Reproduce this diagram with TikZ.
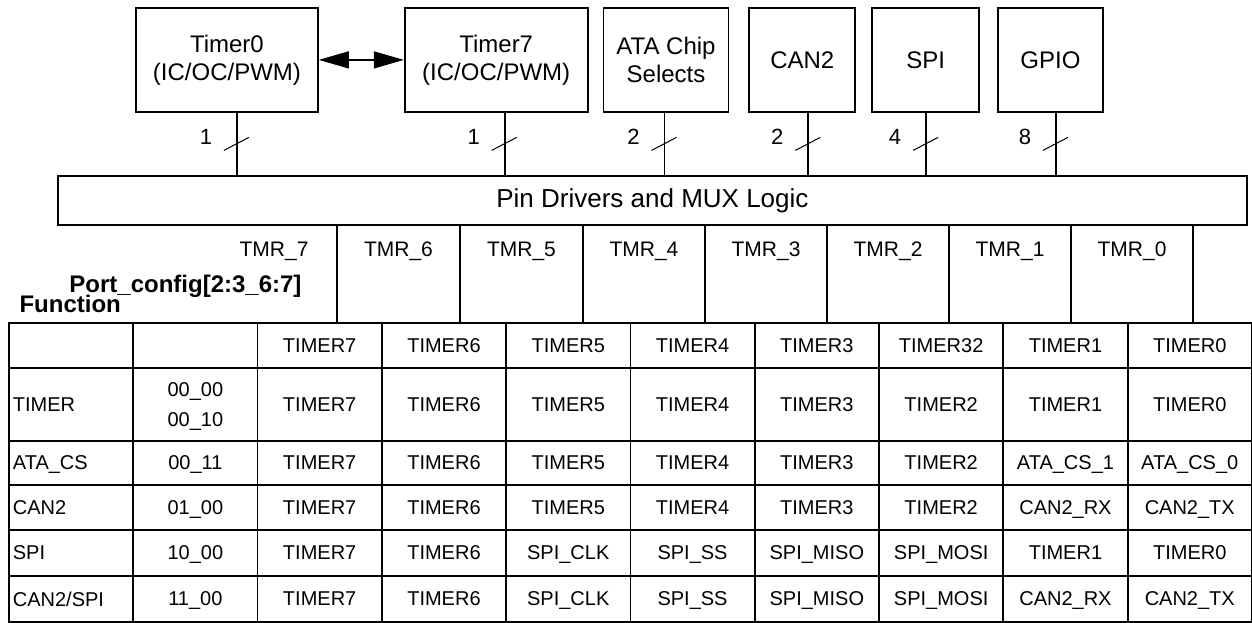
\documentclass[tikz,border=0pt]{standalone}
\usepackage{fontspec}
\setmainfont{Liberation Sans}
\usetikzlibrary{arrows.meta, positioning, calc}

\begin{document}
\begin{tikzpicture}[x=1pt, y=1pt,
    block/.style={draw, line width=1.8pt, minimum height=104pt, inner sep=2pt, align=center, font=\fontsize{24}{28}\selectfont},
    bus/.style={draw, line width=1.8pt, minimum width=1189pt, minimum height=49pt, font=\fontsize{26}{30}\selectfont},
    wire/.style={line width=1.8pt},
    slashmark/.style={line width=1pt},
    nbits/.style={font=\fontsize{22}{26}\selectfont},
    tmr/.style={anchor=base, font=\fontsize{21}{25}\selectfont},
    hdr/.style={font=\bfseries\fontsize{24}{28}\selectfont},
    cell/.style={draw, line width=1.8pt, anchor=north west, minimum width=124.3pt, inner sep=0pt, text depth=0pt, align=center, font=\fontsize{20}{30}\selectfont},
    cellL/.style={cell, text width=116.3pt, inner xsep=4pt, align=left}]
    \useasboundingbox (0,0) rectangle (1252,622);

    % Blocks
    \node [block, minimum width=182pt, anchor=north west] (tmr0) at (135,615) {Timer0\\(IC/OC/PWM)};
    \node [block, minimum width=183pt, right=85pt of tmr0] (tmr7) {Timer7\\(IC/OC/PWM)};
    \node [block, minimum width=125pt, right=14pt of tmr7] (ata) {ATA Chip\\Selects};
    \node [block, minimum width=106pt, right=19pt of ata] (can) {CAN2};
    \node [block, minimum width=107pt, right=15pt of can] (spi) {SPI};
    \node [block, minimum width=105pt, right=17pt of spi] (gpio) {GPIO};
    \node [bus, anchor=north west] (bus) at (57,447) {Pin Drivers and MUX Logic};

    % Connectors
    \draw [{Triangle[length=30pt,width=17pt]}-{Triangle[length=30pt,width=17pt]}, line width=1.3pt] (tmr0.east) -- (tmr7.west);
    \foreach \blk/\dx/\n in {tmr0/10/1, tmr7/8.5/1, ata/-1.5/2, can/6/2, spi/0.5/4, gpio/5.5/8} {
        \coordinate (\blk-w) at ([xshift=\dx pt]\blk.south);
        \draw [wire] (\blk-w) -- coordinate (\blk-m) (\blk-w |- bus.north);
        \draw [slashmark] ($(\blk-m)+(-13,-6.5)$) -- ($(\blk-m)+(12,6.5)$);
        \node [nbits] (\blk-n) at ($(\blk-m)+(-31,7)$) {\n};
    }

    % Port_config header
    \foreach \x in {337,460,583,705,827,949,1071,1193}
        \draw [wire] (\x,398) -- (\x,300);
    \node [tmr, anchor=base east] (lbl7) at (312,365) {TMR\_7};
    \foreach \k/\x in {6/398.5,5/521.5,4/644,3/766,2/888,1/1010,0/1132}
        \node [tmr] (lbl\k) at (\x,365) {TMR\_\k};
    \node [hdr, anchor=base east] (cfg) at (305,330) {Port\_config[2:3\_6:7]};
    \node [hdr, anchor=base west] (func) at (16,310) {Function};

    % Table
    \foreach \ytop/\rowh/\fn/\cf/\vals [count=\row] in {
        300/45/{}/{}/{TIMER7,TIMER6,TIMER5,TIMER4,TIMER3,TIMER32,TIMER1,TIMER0},
        255/73/TIMER/{00\_00\\00\_10}/{TIMER7,TIMER6,TIMER5,TIMER4,TIMER3,TIMER2,TIMER1,TIMER0},
        182/44/ATA\_CS/00\_11/{TIMER7,TIMER6,TIMER5,TIMER4,TIMER3,TIMER2,ATA\_CS\_1,ATA\_CS\_0},
        138/45/CAN2/01\_00/{TIMER7,TIMER6,TIMER5,TIMER4,TIMER3,TIMER2,CAN2\_RX,CAN2\_TX},
        93/46/SPI/10\_00/{TIMER7,TIMER6,SPI\_CLK,SPI\_SS,SPI\_MISO,SPI\_MOSI,TIMER1,TIMER0},
        47/46/{CAN2/SPI}/11\_00/{TIMER7,TIMER6,SPI\_CLK,SPI\_SS,SPI\_MISO,SPI\_MOSI,CAN2\_RX,CAN2\_TX}} {
        \node [cellL, minimum height=\rowh pt] (r\row-c1) at (8,\ytop) {\fn};
        \node [cell, minimum height=\rowh pt] (r\row-c2) at (132.3,\ytop) {\cf};
        \foreach \val [count=\col from 3] in \vals
            \node [cell, minimum height=\rowh pt] (r\row-c\col) at ({8+124.3*(\col-1)},\ytop) {\val};
    }
\end{tikzpicture}
\end{document}
